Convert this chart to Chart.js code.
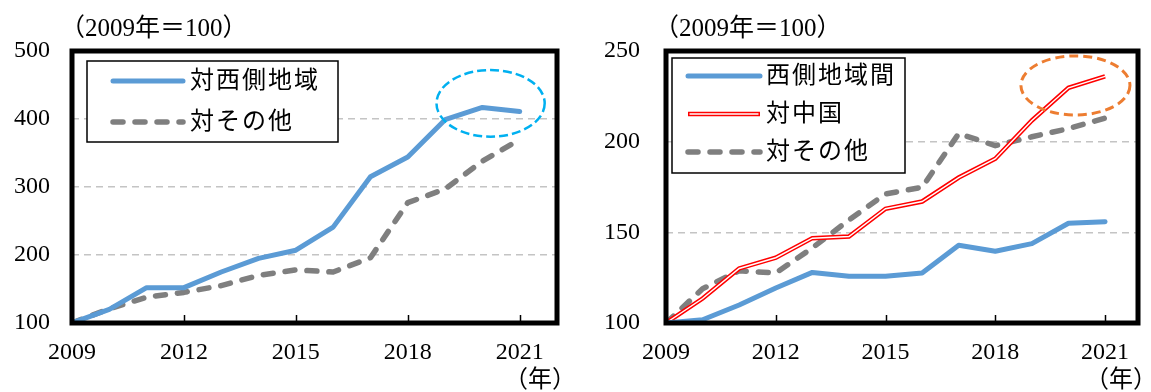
<!DOCTYPE html>
<html>
<head>
<meta charset="utf-8">
<script src="https://cdn.jsdelivr.net/npm/chart.js@4/dist/chart.umd.min.js"></script>
<style>
  html, body { margin: 0; padding: 0; background: #fff; }
  #wrap { position: relative; width: 1151px; height: 392px; overflow: hidden; }
  #left { position: absolute; left: 0; top: 0; }
  #right { position: absolute; left: 580px; top: 0; }
</style>
</head>
<body>
<div id="wrap">
  <canvas id="left" width="580" height="392"></canvas>
  <canvas id="right" width="571" height="392"></canvas>
</div>
<script>
// ---- data ----
const years = [2009, 2010, 2011, 2012, 2013, 2014, 2015, 2016, 2017, 2018, 2019, 2020, 2021];
const yearTicks = [2009, 2012, 2015, 2018, 2021];

// left panel (2009 = 100)
const leftValueTicks = [100, 200, 300, 400, 500];
const toWestRegion = [100, 120, 152, 152, 175, 195, 207, 241, 315, 344, 399, 417, 411];
const leftToOthers = [100, 121, 138, 145, 155, 170, 178, 175, 196, 277, 297, 338, 370];

// right panel (2009 = 100)
const rightValueTicks = [100, 150, 200, 250];
const withinWestRegion = [100, 101.8, 109.9, 119.3, 127.9, 125.8, 125.8, 127.6, 142.9, 139.6, 143.8, 155, 155.9];
const toChina = [100, 113.5, 130.1, 136, 146.8, 147.7, 163, 167, 180.2, 190.6, 211.7, 229.7, 236];
const rightToOthers = [100, 118.9, 128.8, 127.6, 141.4, 156.8, 171.2, 174.8, 204.5, 197.8, 202.7, 207.2, 213];

// highlighted areas (center and radii in axis units)
const leftHighlight = { x: 2020.22, y: 423, rx: 1.45, ry: 49 };
const rightHighlight = { x: 2020.19, y: 231, rx: 1.49, ry: 16.3 };

const unitText = '（2009年＝100）';
const yearText = '（年）';

// ---- styling ----
const FONT_FAMILY = '"Liberation Serif", "Noto Sans CJK JP", serif';
const BLUE = '#5B9BD5';
const GREY = '#7F7F7F';
const RED = '#FF0000';

const toPoints = vals => years.map((x, i) => ({ x, y: vals[i] }));

function blueSeries(label, vals) {
  return { label, data: toPoints(vals), borderColor: BLUE, borderWidth: 5,
           borderCapStyle: 'round', borderJoinStyle: 'round', pointRadius: 0 };
}
function greySeries(label, vals) {
  return { label, data: toPoints(vals), borderColor: GREY, borderWidth: 5.5,
           borderDash: [10, 12], borderCapStyle: 'round', borderJoinStyle: 'round', pointRadius: 0 };
}
function redSeries(label, vals) {
  return { label, data: toPoints(vals), borderColor: RED, borderWidth: 4.5,
           innerColor: '#FFFFFF', innerWidth: 1.5, borderJoinStyle: 'miter', pointRadius: 0 };
}

// Draws the frame, inward year ticks, legend box, highlight ellipse and captions
const panelPlugin = {
  id: 'panel',
  afterDatasetDraw(chart, args) {
    const ds = chart.data.datasets[args.index];
    if (!ds.innerColor) return;
    const pts = args.meta.data;
    const ctx = chart.ctx;
    ctx.save();
    ctx.beginPath();
    pts.forEach((p, i) => i ? ctx.lineTo(p.x, p.y) : ctx.moveTo(p.x, p.y));
    ctx.strokeStyle = ds.innerColor;
    ctx.lineWidth = ds.innerWidth;
    ctx.lineJoin = 'miter';
    ctx.stroke();
    ctx.restore();
  },
  afterDraw(chart, args, opts) {
    const ctx = chart.ctx;
    const area = chart.chartArea;
    const xs = chart.scales.x, ys = chart.scales.y;

    // highlight ellipse
    const h = opts.highlight;
    const cx = xs.getPixelForValue(h.x), cy = ys.getPixelForValue(h.y);
    const rx = Math.abs(xs.getPixelForValue(h.x + h.rx) - cx);
    const ry = Math.abs(ys.getPixelForValue(h.y + h.ry) - cy);
    ctx.save();
    ctx.beginPath();
    ctx.ellipse(cx, cy, rx, ry, 0, 0, Math.PI * 2);
    ctx.strokeStyle = h.color;
    ctx.lineWidth = h.width;
    ctx.setLineDash(h.dash);
    ctx.stroke();
    ctx.restore();

    // inward tick marks on the year axis
    ctx.save();
    ctx.strokeStyle = '#000';
    ctx.lineWidth = 1.5;
    xs.ticks.forEach(t => {
      if (t.value === xs.min) return;
      const px = Math.round(xs.getPixelForValue(t.value)) + 0.5;
      ctx.beginPath();
      ctx.moveTo(px, area.bottom);
      ctx.lineTo(px, area.bottom - 8);
      ctx.stroke();
    });
    ctx.restore();

    // frame
    ctx.save();
    ctx.strokeStyle = '#000';
    ctx.lineWidth = 5;
    ctx.lineJoin = 'miter';
    ctx.strokeRect(area.left, area.top, area.right - area.left, area.bottom - area.top);
    ctx.restore();

    // legend
    const L = opts.legend;
    const bx = area.left + L.dx, by = area.top + L.dy;
    ctx.save();
    ctx.fillStyle = '#fff';
    ctx.fillRect(bx, by, L.w, L.h);
    ctx.strokeStyle = '#000';
    ctx.lineWidth = 1.5;
    ctx.strokeRect(bx, by, L.w, L.h);
    ctx.font = '24px ' + FONT_FAMILY;
    ctx.textBaseline = 'middle';
    ctx.fillStyle = '#000';
    if ('letterSpacing' in ctx) ctx.letterSpacing = '2px';
    chart.data.datasets.forEach((ds, i) => {
      const ry2 = by + L.row0 + i * L.rowGap;
      const x0 = bx + L.sx, x1 = x0 + L.len;
      ctx.beginPath();
      ctx.moveTo(x0, ry2);
      ctx.lineTo(x1, ry2);
      ctx.strokeStyle = ds.borderColor;
      ctx.lineWidth = ds.borderWidth;
      ctx.lineCap = ds.borderCapStyle || 'butt';
      ctx.setLineDash(ds.borderDash || []);
      ctx.stroke();
      if (ds.innerColor) {
        ctx.beginPath();
        ctx.moveTo(x0 + 1.5, ry2);
        ctx.lineTo(x1 - 1.5, ry2);
        ctx.strokeStyle = ds.innerColor;
        ctx.lineWidth = ds.innerWidth;
        ctx.stroke();
      }
      ctx.setLineDash([]);
      ctx.fillText(ds.label, x1 + L.gap, ry2 + 1);
    });
    ctx.restore();

    // captions
    ctx.save();
    ctx.font = '25px ' + FONT_FAMILY;
    ctx.fillStyle = '#000';
    ctx.textBaseline = 'middle';
    ctx.textAlign = 'left';
    ctx.fillText(unitText, area.left - 12, 29);
    ctx.font = '24px ' + FONT_FAMILY;
    ctx.textAlign = 'right';
    ctx.fillText(yearText, area.right + 19, 381);
    ctx.restore();
  }
};

function makePanel(canvasId, cfg) {
  const tickFont = { family: FONT_FAMILY, size: 24 };
  return new Chart(document.getElementById(canvasId), {
    type: 'line',
    data: { datasets: cfg.datasets },
    options: {
      responsive: false,
      animation: false,
      devicePixelRatio: 1,
      layout: { padding: { top: 51, right: cfg.padRight, left: 0, bottom: 0 } },
      elements: { line: { tension: 0 }, point: { radius: 0 } },
      plugins: {
        legend: { display: false },
        tooltip: { enabled: false },
        panel: { legend: cfg.legend, highlight: cfg.highlight }
      },
      scales: {
        x: {
          type: 'linear',
          min: 2009,
          max: cfg.xMax,
          afterBuildTicks: s => { s.ticks = yearTicks.map(v => ({ value: v })); },
          afterFit: s => { s.height = 69; },
          grid: { display: false, drawTicks: false },
          border: { display: false },
          ticks: { font: tickFont, color: '#000', padding: 15, maxRotation: 0,
                   autoSkip: false, callback: v => String(v) }
        },
        y: {
          type: 'linear',
          min: cfg.yTicks[0],
          max: cfg.yTicks[cfg.yTicks.length - 1],
          afterBuildTicks: s => { s.ticks = cfg.yTicks.map(v => ({ value: v })); },
          afterFit: s => { s.width = cfg.axisWidth; },
          grid: {
            drawTicks: false,
            lineWidth: 1.5,
            color: c => {
              const v = c.tick ? c.tick.value : null;
              const lo = cfg.yTicks[0], hi = cfg.yTicks[cfg.yTicks.length - 1];
              return (v !== null && v > lo && v < hi) ? '#C4C4C4' : 'rgba(0,0,0,0)';
            }
          },
          border: { display: false, dash: [7, 5] },
          ticks: { font: tickFont, color: '#000', padding: cfg.labelPad,
                   callback: v => String(v) }
        }
      }
    },
    plugins: [panelPlugin]
  });
}

makePanel('left', {
  datasets: [
    blueSeries('対西側地域', toWestRegion),
    greySeries('対その他', leftToOthers)
  ],
  yTicks: leftValueTicks,
  xMax: 2022,
  axisWidth: 72,
  labelPad: 22,
  padRight: 23,
  legend: { dx: 15, dy: 10, w: 251, h: 81, row0: 20, rowGap: 41, sx: 26, len: 70, gap: 7 },
  highlight: Object.assign({ color: '#00B0F0', width: 2.5, dash: [9, 4] }, leftHighlight)
});

makePanel('right', {
  datasets: [
    blueSeries('西側地域間', withinWestRegion),
    redSeries('対中国', toChina),
    greySeries('対その他', rightToOthers)
  ],
  yTicks: rightValueTicks,
  xMax: 2021.9,
  axisWidth: 86,
  labelPad: 26,
  padRight: 13,
  legend: { dx: 6, dy: 7, w: 233, h: 115, row0: 18, rowGap: 38, sx: 16, len: 72, gap: 6 },
  highlight: Object.assign({ color: '#ED7D31', width: 3, dash: [9, 5] }, rightHighlight)
});
</script>
</body>
</html>
